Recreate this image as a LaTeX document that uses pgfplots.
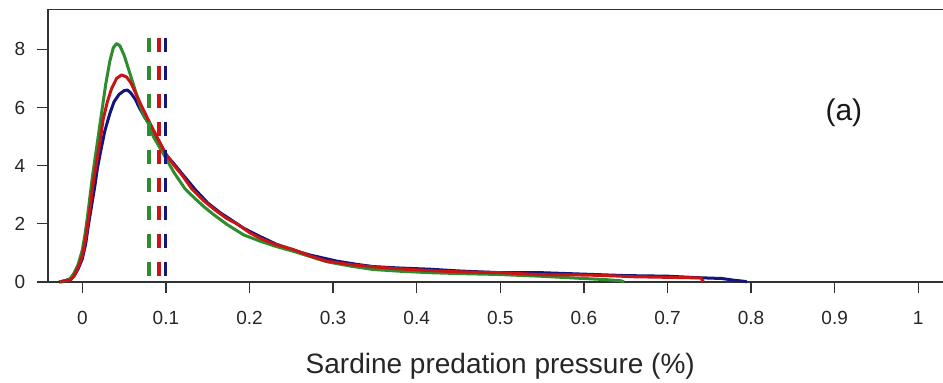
\documentclass[border=0pt]{standalone}
\usepackage{pgfplots}
\pgfplotsset{compat=1.18}
\usepackage{fontspec}
\setmainfont{Liberation Sans}
\definecolor{cgreen}{RGB}{46,140,46}
\definecolor{cred}{RGB}{200,20,20}
\definecolor{cblue}{RGB}{20,20,125}
\definecolor{axgray}{RGB}{50,50,50}
\begin{document}
\begin{tikzpicture}
\begin{axis}[
  scale only axis,
  width=895.3bp, height=272.5bp,
  at={(47.7bp,101bp)}, anchor=south west,
  xmin=-0.0414, xmax=1.0296, ymin=0, ymax=9.37,
  axis line style={draw=none},
  xtick={0,0.1,0.2,0.3,0.4,0.5,0.6,0.7,0.8,0.9,1},
  xticklabels={0,0.1,0.2,0.3,0.4,0.5,0.6,0.7,0.8,0.9,1},
  ytick={0,2,4,6,8},
  yticklabels={0,2,4,6,8},
  xtick pos=lower, ytick pos=left,
  tick align=outside,
  major tick length=11bp,
  every tick/.style={axgray, line width=1.3bp},
  ticklabel style={font=\fontsize{19bp}{21bp}\selectfont, text=black!85},
  xticklabel style={anchor=base, yshift=-31bp},
  yticklabel style={anchor=east, xshift=-8bp},
  xlabel={Sardine predation pressure (\%)},
  xlabel style={at={(axis cs:0.5,0)}, anchor=base, yshift=-91bp, font=\fontsize{28bp}{30bp}\selectfont, text=black!85},
  clip=false,
]
\draw[axgray, line width=1.6bp] (rel axis cs:1,0) -- (rel axis cs:0,0) -- (rel axis cs:0,1) -- (rel axis cs:1,1);

\addplot[cblue, line width=3bp, line join=round] coordinates {
(-0.028,0) (-0.02,0.05) (-0.015,0.1) (-0.01,0.2) (-0.005,0.45) (0.0,0.8) (0.004,1.3) (0.007,1.9) (0.011,2.6) (0.015,3.3) (0.018,3.9) (0.022,4.5) (0.027,5.2) (0.033,5.8) (0.038,6.2) (0.044,6.45) (0.05,6.58) (0.054,6.6) (0.058,6.5) (0.063,6.3) (0.069,5.95) (0.075,5.65) (0.081,5.4) (0.088,5.0) (0.094,4.7) (0.101,4.35) (0.11,4.05) (0.12,3.7) (0.135,3.18) (0.15,2.72) (0.165,2.38) (0.18,2.1) (0.193,1.85) (0.21,1.6) (0.232,1.3) (0.252,1.1) (0.272,0.93) (0.292,0.8) (0.304,0.72) (0.33,0.6) (0.348,0.53) (0.38,0.48) (0.416,0.44) (0.45,0.38) (0.5,0.32) (0.55,0.32) (0.6,0.27) (0.65,0.22) (0.7,0.2) (0.735,0.15) (0.765,0.12) (0.78,0.06) (0.793,0.02) (0.795,0)
};
\addplot[cgreen, line width=3bp, line join=round] coordinates {
(-0.027,0) (-0.02,0.04) (-0.015,0.1) (-0.01,0.3) (-0.005,0.6) (0.0,1.1) (0.003,1.6) (0.006,2.2) (0.009,2.9) (0.012,3.6) (0.016,4.4) (0.02,5.2) (0.024,6.0) (0.028,6.8) (0.033,7.6) (0.037,8.05) (0.041,8.2) (0.045,8.12) (0.05,7.8) (0.055,7.35) (0.061,6.8) (0.067,6.25) (0.073,5.75) (0.079,5.45) (0.085,5.0) (0.093,4.6) (0.101,4.2) (0.11,3.75) (0.123,3.2) (0.133,2.92) (0.145,2.6) (0.157,2.32) (0.173,1.98) (0.193,1.62) (0.213,1.4) (0.232,1.22) (0.252,1.06) (0.272,0.88) (0.292,0.7) (0.32,0.55) (0.348,0.43) (0.38,0.37) (0.416,0.32) (0.45,0.29) (0.496,0.26) (0.547,0.2) (0.6,0.12) (0.627,0.08) (0.645,0.04) (0.648,0)
};
\addplot[cred, line width=3bp, line join=round] coordinates {
(-0.026,0) (-0.02,0.05) (-0.014,0.07) (-0.01,0.2) (-0.005,0.5) (0.0,0.9) (0.004,1.5) (0.007,2.1) (0.01,2.7) (0.013,3.4) (0.017,4.1) (0.021,4.8) (0.025,5.6) (0.03,6.2) (0.035,6.65) (0.041,7.0) (0.047,7.12) (0.053,7.05) (0.058,6.85) (0.063,6.55) (0.07,6.1) (0.076,5.75) (0.082,5.4) (0.09,4.95) (0.1,4.4) (0.11,4.0) (0.12,3.65) (0.131,3.2) (0.145,2.8) (0.16,2.45) (0.173,2.18) (0.185,2.0) (0.2,1.7) (0.213,1.5) (0.23,1.3) (0.252,1.12) (0.272,0.9) (0.292,0.72) (0.32,0.6) (0.348,0.52) (0.38,0.45) (0.416,0.39) (0.45,0.35) (0.5,0.32) (0.55,0.25) (0.6,0.24) (0.627,0.22) (0.66,0.18) (0.7,0.16) (0.74,0.14) (0.743,0)
};

\addplot[cgreen, line width=3.5bp, dash pattern=on 14bp off 14bp] coordinates {(0.080,8.4) (0.080,0)};
\addplot[cred, line width=3.5bp, dash pattern=on 14bp off 14bp] coordinates {(0.092,8.4) (0.092,0)};
\addplot[cblue, line width=3.5bp, dash pattern=on 14bp off 14bp] coordinates {(0.0997,8.4) (0.0997,0)};

\node[font=\fontsize{30bp}{32bp}\selectfont, text=black!90] at (axis cs:0.911,5.82) {(a)};
\end{axis}
\pgfresetboundingbox
\useasboundingbox (0,0) rectangle (943bp,383bp);
\end{tikzpicture}
\end{document}
